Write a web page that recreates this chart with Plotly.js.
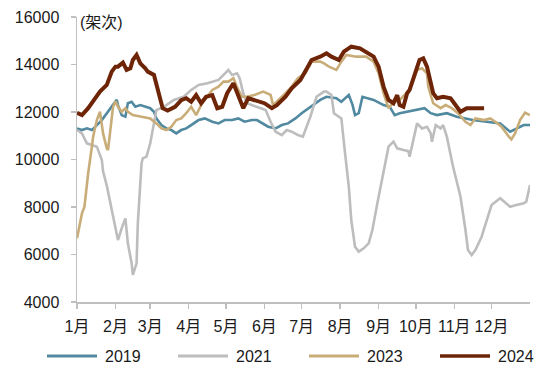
<!DOCTYPE html>
<html>
<head>
<meta charset="utf-8">
<script src="https://cdn.plot.ly/plotly-3.0.1.min.js"></script>
<style>html,body{margin:0;padding:0;background:#fff;}#chart{width:550px;height:378px;}</style>
</head>
<body>
<div id="chart"></div>
<script>
// x = day of year (0 = Jan 1), y = flights (架次)
const monthStarts = [0,31,59,90,120,151,181,212,243,273,304,334];
const monthLabels = ["1月","2月","3月","4月","5月","6月","7月","8月","9月","10月","11月","12月"];
const seriesNames = ["2019","2021","2023","2024"];

const s2019 = [[0,11310],[4,11240],[8,11310],[12,11240],[16,11450],[20,11660],[24,11950],[28,12220],[31,12430],[32,12510],[33,12290],[36,11870],[39,11800],[41,12370],[44,12430],[47,12220],[51,12290],[55,12220],[59,12160],[62,12010],[64,11730],[68,11450],[72,11310],[76,11240],[80,11100],[84,11240],[88,11310],[92,11450],[98,11660],[103,11730],[109,11590],[114,11520],[119,11660],[125,11660],[130,11730],[135,11590],[141,11660],[145,11660],[149,11520],[154,11380],[160,11310],[165,11450],[170,11520],[176,11730],[181,11950],[188,12220],[196,12510],[201,12640],[209,12580],[213,12430],[219,12720],[222,12300],[224,11870],[227,11950],[230,12640],[239,12510],[247,12290],[252,12220],[256,11870],[260,11950],[266,12010],[274,12080],[280,12160],[285,11950],[290,11870],[298,11950],[306,11800],[319,11660],[333,11590],[341,11520],[349,11170],[354,11310],[360,11450],[365,11450]];

const s2021 = [[0,11240],[4,11100],[8,10680],[12,10610],[16,10540],[20,9980],[21,9500],[24,8900],[27,8160],[31,7030],[33,6610],[36,7100],[39,7520],[41,6470],[44,5630],[45,5140],[48,5630],[49,7300],[51,9140],[52,9840],[53,10050],[56,10120],[59,10680],[62,11520],[64,12080],[70,12220],[78,12510],[86,12640],[92,12930],[98,13140],[105,13210],[114,13350],[119,13630],[122,13770],[125,13560],[129,13630],[131,13420],[134,12790],[137,12370],[141,12290],[146,12220],[152,12080],[156,11590],[160,11170],[165,11030],[169,11240],[173,11170],[178,11030],[182,10960],[188,11800],[193,12640],[199,12860],[201,12860],[205,12720],[207,11950],[213,11730],[216,10260],[219,8860],[221,7450],[224,6330],[227,6120],[231,6260],[235,6470],[238,7030],[242,8160],[247,9560],[251,10540],[255,10750],[258,10470],[263,10400],[267,10350],[268,10120],[271,10820],[274,11520],[278,11310],[282,11380],[285,11100],[286,10750],[289,11450],[293,11310],[295,11450],[298,10960],[303,9700],[309,8430],[313,7030],[315,6190],[318,5980],[321,6190],[326,6750],[330,7450],[334,8080],[341,8370],[349,8010],[354,8080],[360,8160],[362,8220],[365,8930]];

const s2023 = [[0,6680],[4,7730],[6,8010],[9,9420],[12,10540],[13,10960],[16,11660],[18.5,12010],[21,11100],[24,10470],[25,10400],[29,12200],[31,12450],[33,12220],[36,12010],[39,12160],[41,12010],[45,11870],[52,11800],[59,11730],[64,11520],[68,11310],[72,11240],[76,11380],[80,11660],[84,11730],[88,11950],[92,12220],[96,11870],[100,12290],[104,12580],[109,12930],[114,13070],[118,13280],[122,13280],[126,13420],[130,12930],[133,12640],[137,12640],[143,12720],[150,12860],[156,12720],[158,12290],[164,12580],[168,12790],[173,13070],[178,13420],[184,13630],[189,14120],[196,14120],[199,14050],[203,13910],[209,13770],[213,14120],[217,14400],[225,14330],[233,14330],[239,14120],[243,13630],[247,12790],[251,12160],[255,12400],[260,12510],[264,12720],[268,12930],[274,13770],[278,13840],[282,13630],[283,13070],[287,12370],[293,12160],[297,12290],[302,12160],[307,11950],[313,11590],[317,11450],[321,11730],[328,11660],[333,11730],[337,11590],[342,11380],[348,10960],[350,10850],[353,11100],[357,11660],[361,11970],[365,11870]];

const s2024 = [[0,11970],[4,11870],[9,12160],[14,12500],[18.5,12860],[24,13140],[28,13700],[31,13910],[33,13910],[37,14080],[40,13770],[43,13840],[45,14190],[48,14400],[51,14050],[55,13840],[57,13700],[62,13560],[64,13140],[67,12580],[69,12160],[73,12060],[79,12220],[84,12500],[88,12580],[92,12430],[96,12710],[100,12370],[104,12640],[109,12710],[113,12160],[117,12220],[121,12790],[126,13210],[130,12720],[134,12160],[138,12580],[143,12510],[151,12370],[157,12160],[161,12290],[168,12640],[173,13000],[180,13350],[184,13700],[189,14190],[196,14330],[201,14470],[205,14330],[211,14190],[215,14540],[221,14750],[228,14680],[233,14540],[239,14330],[243,13910],[247,13070],[251,12510],[255,12370],[258,12710],[260,12290],[263,12220],[266,12790],[268,12930],[272,13630],[276,14190],[279,14260],[282,13910],[284.5,13350],[287,12790],[290,12580],[295,12640],[301,12580],[305,12290],[309,12010],[314,12160],[321,12160],[328,12160]];

const allSeries = [s2019, s2021, s2023, s2024];
const colors = ["#5089a0", "#bdbdbd", "#c9ad79", "#6d2407"];
const widths = [2.6, 2.6, 2.6, 4];

const FONT = "Liberation Sans, Arial, 'Noto Sans CJK SC', sans-serif";

const traces = allSeries.map((s, i) => ({
  type: "scatter",
  mode: "lines",
  name: seriesNames[i],
  x: s.map(p => p[0]),
  y: s.map(p => p[1]),
  line: {color: colors[i], width: widths[i], shape: "linear"},
  hoverinfo: "skip"
}));

// Manual legend (paper coordinates; plot area is 453 x 285 px)
const PW = 453, PH = 285;
const legendLineStartPx = [-30, 101, 232, 363];   // relative to plot left edge
const legendLen = 50, legendTextGap = 6, legendYPx = -54; // below plot bottom
const legendShapes = seriesNames.map((n, i) => ({
  type: "line", xref: "paper", yref: "paper",
  x0: legendLineStartPx[i] / PW, x1: (legendLineStartPx[i] + legendLen) / PW,
  y0: legendYPx / PH, y1: legendYPx / PH,
  line: {color: colors[i], width: i === 3 ? 3.5 : 3}
}));
const legendTexts = seriesNames.map((n, i) => ({
  text: n, xref: "paper", yref: "paper",
  x: (legendLineStartPx[i] + legendLen + legendTextGap) / PW, y: legendYPx / PH,
  xanchor: "left", yanchor: "middle", showarrow: false,
  font: {family: FONT, size: 16, color: "#1a1a1a"}
}));

const axisCommon = {
  showline: true, linecolor: "#bfbfbf", linewidth: 1.5,
  ticks: "outside", ticklen: 5, tickcolor: "#bfbfbf", tickwidth: 1.5,
  showgrid: false, zeroline: false, automargin: false,
  tickfont: {family: FONT, size: 16, color: "#1a1a1a"}
};

const layout = {
  width: 550, height: 378,
  margin: {l: 77, r: 20, t: 17, b: 76},
  paper_bgcolor: "#fff", plot_bgcolor: "#fff",
  font: {family: FONT, size: 16, color: "#1a1a1a"},
  showlegend: false,
  xaxis: Object.assign({}, axisCommon, {
    range: [0, 365], tickmode: "array", tickvals: monthStarts, ticktext: monthLabels,
    ticklabelstandoff: 4, fixedrange: true
  }),
  yaxis: Object.assign({}, axisCommon, {
    range: [4000, 16000], dtick: 2000, tick0: 4000, tickformat: "d",
    ticklabelstandoff: 8, fixedrange: true
  }),
  shapes: legendShapes,
  annotations: [{
    text: "(架次)", xref: "paper", yref: "paper", x: 0.002, y: 0.982,
    xanchor: "left", yanchor: "middle", showarrow: false,
    font: {family: FONT, size: 16, color: "#1a1a1a"}
  }].concat(legendTexts)
};

Plotly.newPlot("chart", traces, layout, {displayModeBar: false, staticPlot: true});
</script>
</body>
</html>
